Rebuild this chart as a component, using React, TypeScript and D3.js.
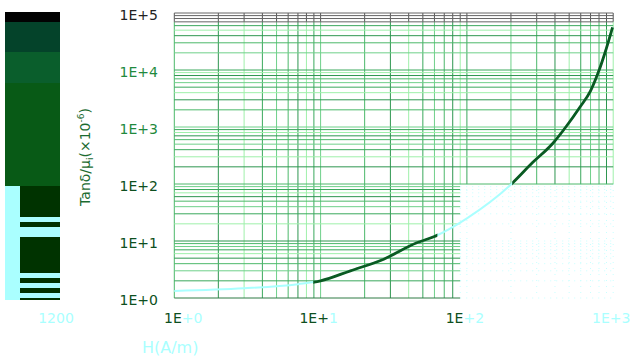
import { useMemo } from "react";
import * as d3 from "d3";

// loss factor curve
const fieldH = [1, 3, 7, 10, 16, 27, 45, 60, 100, 200, 280, 390, 480, 590, 700, 790, 880, 990];
const tanDelta = [1.33, 1.48, 1.75, 2.0, 3.0, 4.8, 9.2, 12, 25, 98, 235, 530, 1040, 2200, 4300, 9000, 20300, 56000];

// H ranges where the curve shows dark (cyan elsewhere)
const darkRanges = [
  [8.9, 59],
  [204, 1000],
];

const xTicks = [1, 10, 100, 1000];
const xTickLabels = ["1E+0", "1E+1", "1E+2", "1E+3"];
const xLabelDarkChars = [2, 3, 2, 0];
const yTicks = [1, 10, 100, 1000, 10000, 100000];
const yTickLabels = ["1E+0", "1E+1", "1E+2", "1E+3", "1E+4", "1E+5"];

// left stacked bar
const barCategory = "1200";
const barUpper = [10, 30, 31, 103];
const barUpperColors = ["#020202", "#04432a", "#0a5e2c", "#085a16"];
const barLower = [31, 5, 5, 10, 36, 5, 5, 5, 5, 5, 2];

const W = 632;
const H = 360;
const plot = { left: 174.3, right: 613.2, top: 13, bottom: 298 };
const DARK = "#0a5a22";
const CYAN = "#aaffff";
const gridColors = ["#4cb86a", "#2e9650", "#9ff0aa", "#3aa85c", "#6fd08a"];

export default function App() {
  const x = useMemo(
    () => d3.scaleLog().domain([1, 1000]).range([plot.left, plot.right]),
    []
  );
  const y = useMemo(
    () => d3.scaleLog().domain([1, 100000]).range([plot.bottom, plot.top]),
    []
  );

  const pts = fieldH.map((h, i) => [h, tanDelta[i]] as [number, number]);
  const line = d3
    .line<[number, number]>()
    .x((d) => x(d[0]))
    .y((d) => y(d[1]))
    .curve(d3.curveMonotoneX);
  const path = line(pts) || "";

  const xGrid = x.ticks();
  const yGrid = y.ticks();
  const fadeX = 90; // lower-right block is washed out
  const fadeY = 100;

  // bar
  const barTop = 12;
  const barBottom = 300;
  const total = d3.sum(barUpper) + d3.sum(barLower);
  const by = d3.scaleLinear().domain([0, total]).range([barTop, barBottom]);
  const upperStarts = d3.cumsum([0, ...barUpper]);
  const lowerStarts = d3.cumsum([d3.sum(barUpper), ...barLower]);

  return (
    <svg
      width={W}
      height={H}
      style={{ position: "absolute", left: 0, top: 0, background: "#fff" }}
      fontFamily="DejaVu Sans, sans-serif"
    >
      <defs>
        <clipPath id="darkclip">
          {darkRanges.map((r, i) => (
            <rect
              key={i}
              x={x(r[0])}
              y={0}
              width={x(r[1]) - x(r[0]) + 4}
              height={H}
            />
          ))}
        </clipPath>
      </defs>

      {/* left bar */}
      <g>
        {barUpper.map((v, i) => (
          <rect
            key={"u" + i}
            x={5}
            y={by(upperStarts[i])}
            width={55}
            height={by(upperStarts[i] + v) - by(upperStarts[i])}
            fill={barUpperColors[i]}
          />
        ))}
        <rect
          x={5}
          y={by(d3.sum(barUpper))}
          width={15}
          height={barBottom - by(d3.sum(barUpper))}
          fill={CYAN}
        />
        {barLower.map((v, i) => (
          <rect
            key={"l" + i}
            x={20}
            y={by(lowerStarts[i])}
            width={40}
            height={by(lowerStarts[i] + v) - by(lowerStarts[i])}
            fill={i % 2 === 0 ? "#003300" : CYAN}
          />
        ))}
        <text x={56} y={323} fontSize={14} fill={CYAN} textAnchor="middle">
          {barCategory}
        </text>
      </g>

      {/* vertical grid */}
      {xGrid.map((v, i) => {
        const px = x(v);
        const col = gridColors[i % gridColors.length];
        const splitY = v >= fadeX ? y(fadeY) : plot.bottom;
        return (
          <g key={"vx" + i}>
            <line x1={px} x2={px} y1={plot.top} y2={y(70000)} stroke="#555" strokeWidth={1} />
            <line x1={px} x2={px} y1={y(70000)} y2={splitY} stroke={col} strokeWidth={1} />
            {v >= fadeX && (
              <line
                x1={px}
                x2={px}
                y1={splitY}
                y2={plot.bottom}
                stroke="#c8ffff"
                strokeWidth={1}
                strokeDasharray="1,5"
              />
            )}
          </g>
        );
      })}

      {/* horizontal grid */}
      {yGrid.map((v, i) => {
        const py = y(v);
        const col = v >= 70000 ? "#666" : gridColors[(i + 2) % gridColors.length];
        const faded = v < fadeY;
        const splitX = faded ? x(fadeX) : plot.right;
        return (
          <g key={"hy" + i}>
            <line
              x1={plot.left}
              x2={splitX}
              y1={py}
              y2={py}
              stroke={v === 1 ? "#2e7a45" : col}
              strokeWidth={1}
            />
            {faded && (
              <line
                x1={splitX}
                x2={plot.right}
                y1={py}
                y2={py}
                stroke="#c8ffff"
                strokeWidth={1}
                strokeDasharray="1,5"
              />
            )}
          </g>
        );
      })}

      {/* curve */}
      <path d={path} fill="none" stroke={CYAN} strokeWidth={2} />
      <path
        d={path}
        fill="none"
        stroke={DARK}
        strokeWidth={2.8}
        clipPath="url(#darkclip)"
      />

      {/* y tick labels */}
      {yTicks.map((v, i) => (
        <text
          key={"yl" + i}
          x={158}
          y={y(v) + 7}
          fontSize={14}
          textAnchor="end"
          fill={v === 100000 ? "#222" : v >= 1000 ? "#1f8a3e" : "#0d4f20"}
        >
          {yTickLabels[i]}
        </text>
      ))}

      {/* x tick labels */}
      {xTicks.map((v, i) => {
        const n = xLabelDarkChars[i];
        const s = xTickLabels[i];
        return (
          <text
            key={"xl" + i}
            x={i === 0 ? x(v) + 9 : x(v) - 2}
            y={323}
            fontSize={14}
            textAnchor="middle"
          >
            <tspan fill="#0d4f20">{s.slice(0, n)}</tspan>
            <tspan fill={CYAN}>{s.slice(n)}</tspan>
          </text>
        );
      })}

      {/* axis titles */}
      <text x={142} y={353} fontSize={16} fill={CYAN}>
        H(A/m)
      </text>
      <text
        transform="translate(90,157) rotate(-90)"
        fontSize={14}
        fill="#1b6b30"
        textAnchor="middle"
      >
        Tanδ/μ
        <tspan fontSize={9} dy={3}>i</tspan>
        <tspan dy={-3}>(×10</tspan>
        <tspan fontSize={9} dy={-6}>-6</tspan>
        <tspan dy={6}>)</tspan>
      </text>
    </svg>
  );
}
